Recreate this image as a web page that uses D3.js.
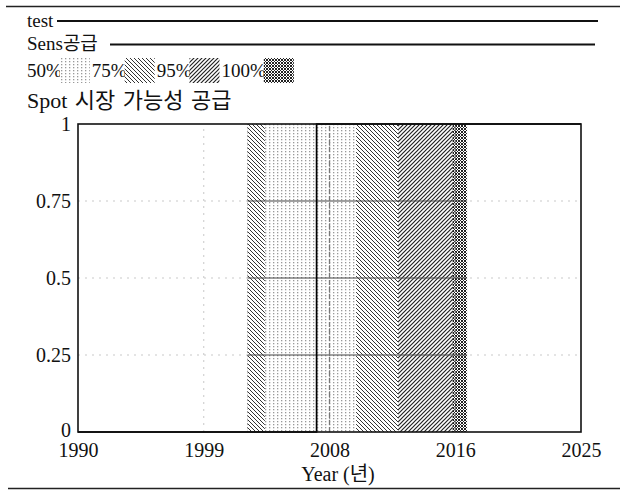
<!DOCTYPE html>
<html lang="ko">
<head>
<meta charset="utf-8">
<title>Spot 시장 가능성 공급</title>
<script src="https://cdn.jsdelivr.net/npm/d3@7"></script>
<style>
  body { margin: 0; background: #fff; }
  text { font-family: "Liberation Serif", "Noto Sans CJK KR", serif; fill: #111; }
</style>
</head>
<body>
<script>
/* data */
var xDomain = [1990, 2025];
var xTickValues = [1990, 1998.75, 2007.5, 2016.25, 2025];
var xTickLabels = ["1990", "1999", "2008", "2016", "2025"];
var yTicks = [0, 0.25, 0.5, 0.75, 1];
var yTickLabels = ["0", "0.25", "0.5", "0.75", "1"];
var bandLabels = ["50%", "75%", "95%", "100%"];
/* each band: time span where the runs of that percentile switch from 0 to 1 */
var bandStart = [2003.0, 2001.8, 2001.8, 2001.8];
var bandEnd = [2009.35, 2012.27, 2016.07, 2017.07];
var testStep = 2006.6;
var sensStep = 2006.6;
var seriesNames = ["test", "Sens공급"];

var W = 620, H = 491;
var margin = {top: 124, right: 39, bottom: 59, left: 78};

var svg = d3.select("body").append("svg")
  .attr("width", W)
  .attr("height", H);

var x = d3.scaleLinear().domain(xDomain).range([margin.left, W - margin.right]);
var y = d3.scaleLinear().domain([0, 1]).range([H - margin.bottom, margin.top]);

/* hatch patterns */
var defs = svg.append("defs");
var p50 = defs.append("pattern").attr("id", "p50")
  .attr("patternUnits", "userSpaceOnUse").attr("width", 4).attr("height", 3);
p50.append("rect").attr("width", 4).attr("height", 3).attr("fill", "#fff");
p50.append("rect").attr("x", 1).attr("y", 1).attr("width", 1.3).attr("height", 1.3).attr("fill", "#999");

var p75 = defs.append("pattern").attr("id", "p75")
  .attr("patternUnits", "userSpaceOnUse").attr("width", 4).attr("height", 4);
p75.append("rect").attr("width", 4).attr("height", 4).attr("fill", "#fff");
p75.append("path").attr("d", "M0,0L4,4M-1,3L1,5M3,-1L5,1")
  .attr("stroke", "#333").attr("stroke-width", 1);

var p95 = defs.append("pattern").attr("id", "p95")
  .attr("patternUnits", "userSpaceOnUse").attr("width", 4).attr("height", 4);
p95.append("rect").attr("width", 4).attr("height", 4).attr("fill", "#fff");
p95.append("path").attr("d", "M0,4L4,0M-1,1L1,-1M3,5L5,3")
  .attr("stroke", "#222").attr("stroke-width", 1.2);

var p100 = defs.append("pattern").attr("id", "p100")
  .attr("patternUnits", "userSpaceOnUse").attr("width", 3).attr("height", 3);
p100.append("rect").attr("width", 3).attr("height", 3).attr("fill", "#fff");
p100.append("path").attr("d", "M0,0L3,3M0,3L3,0")
  .attr("stroke", "#222").attr("stroke-width", 1);

var fills = ["url(#p50)", "url(#p75)", "url(#p95)", "url(#p100)"];

/* page rules (top and bottom) */
svg.append("line").attr("x1", 6).attr("x2", 620).attr("y1", 6.5).attr("y2", 6.5)
  .attr("stroke", "#222").attr("stroke-width", 1.3);
svg.append("line").attr("x1", 8).attr("x2", 620).attr("y1", 488.5).attr("y2", 488.5)
  .attr("stroke", "#222").attr("stroke-width", 1.3);

/* legend */
svg.append("text").attr("x", 27).attr("y", 27).style("font-size", "19px").text(seriesNames[0]);
svg.append("line").attr("x1", 57).attr("x2", 598).attr("y1", 21).attr("y2", 21)
  .attr("stroke", "#111").attr("stroke-width", 1.8);
svg.append("text").attr("x", 27).attr("y", 50).style("font-size", "19px").text(seriesNames[1]);
svg.append("line").attr("x1", 110).attr("x2", 595).attr("y1", 44.5).attr("y2", 44.5)
  .attr("stroke", "#111").attr("stroke-width", 1.8);

var cursor = 27;
bandLabels.forEach(function(lab, i) {
  var t = svg.append("text").attr("x", cursor).attr("y", 77).style("font-size", "19px").text(lab);
  cursor += t.node().getComputedTextLength() - 2;
  svg.append("rect").attr("x", cursor).attr("y", 58).attr("width", 30).attr("height", 25)
    .attr("fill", fills[i]);
  cursor += 32;
});

svg.append("text").attr("x", 27).attr("y", 108).style("font-size", "22px")
  .style("word-spacing", "2px").text("Spot 시장 가능성 공급");

/* faint grid */
var grid = svg.append("g").attr("stroke", "#bbb").attr("stroke-width", 0.8).attr("stroke-dasharray", "2,5");
grid.selectAll(".gx").data(xTickValues.slice(1, -1)).enter().append("line")
  .attr("x1", function(d) { return x(d); }).attr("x2", function(d) { return x(d); })
  .attr("y1", y(0)).attr("y2", y(1));
grid.selectAll(".gy").data(yTicks.slice(1, -1)).enter().append("line")
  .attr("x1", x(xDomain[0])).attr("x2", x(xDomain[1]))
  .attr("y1", function(d) { return y(d); }).attr("y2", function(d) { return y(d); });

/* bands, outermost first */
var order = [3, 2, 1, 0];
svg.append("g").selectAll("rect").data(order).enter().append("rect")
  .attr("x", function(i) { return x(bandStart[i]); })
  .attr("width", function(i) { return x(bandEnd[i]) - x(bandStart[i]); })
  .attr("y", y(1))
  .attr("height", y(0) - y(1))
  .attr("fill", function(i) { return fills[i]; });

/* grid shows darker where it crosses the bands */
defs.append("clipPath").attr("id", "bandClip").append("rect")
  .attr("x", x(d3.min(bandStart))).attr("width", x(d3.max(bandEnd)) - x(d3.min(bandStart)))
  .attr("y", y(1)).attr("height", y(0) - y(1));
var dgrid = svg.append("g").attr("clip-path", "url(#bandClip)");
dgrid.selectAll(".dy").data(yTicks.slice(1, -1)).enter().append("line")
  .attr("x1", x(xDomain[0])).attr("x2", x(xDomain[1]))
  .attr("y1", function(d) { return y(d); }).attr("y2", function(d) { return y(d); })
  .attr("stroke", "#444").attr("stroke-width", 1.2);
dgrid.selectAll(".dx").data(xTickValues.slice(1, -1)).enter().append("line")
  .attr("x1", function(d) { return x(d); }).attr("x2", function(d) { return x(d); })
  .attr("y1", y(0)).attr("y2", y(1))
  .attr("stroke", "#777").attr("stroke-width", 1.3).attr("stroke-dasharray", "5,2");

/* step lines */
function stepPath(t) {
  return d3.line()([[x(xDomain[0]), y(0)], [x(t), y(0)], [x(t), y(1)], [x(xDomain[1]), y(1)]]);
}
svg.append("path").attr("d", stepPath(sensStep)).attr("fill", "none")
  .attr("stroke", "#333").attr("stroke-width", 1.2);
svg.append("path").attr("d", stepPath(testStep)).attr("fill", "none")
  .attr("stroke", "#000").attr("stroke-width", 1.6);

/* frame */
svg.append("rect").attr("x", x(xDomain[0])).attr("y", y(1))
  .attr("width", x(xDomain[1]) - x(xDomain[0])).attr("height", y(0) - y(1))
  .attr("fill", "none").attr("stroke", "#111").attr("stroke-width", 1.6);

/* axes */
var xAxis = d3.axisBottom(x).tickValues(xTickValues)
  .tickFormat(function(d, i) { return xTickLabels[i]; })
  .tickSize(0).tickPadding(11);
var gx = svg.append("g").attr("transform", "translate(0," + y(0) + ")").call(xAxis);
gx.select(".domain").remove();
gx.selectAll("text").style("font-size", "20px").attr("fill", "#111")
  .style("font-family", "'Liberation Serif', serif");

var yAxis = d3.axisLeft(y).tickValues(yTicks)
  .tickFormat(function(d, i) { return yTickLabels[i]; })
  .tickSize(0).tickPadding(7);
var gy = svg.append("g").attr("transform", "translate(" + x(xDomain[0]) + ",0)").call(yAxis);
gy.select(".domain").remove();
gy.selectAll("text").style("font-size", "20px").attr("fill", "#111")
  .style("font-family", "'Liberation Serif', serif");
/* the 0 label sits a little higher so it clears 1990 */
gy.selectAll("text").filter(function(d) { return d === 0; }).attr("dy", "0.2em");

svg.append("text").attr("x", 338).attr("y", 481).attr("text-anchor", "middle")
  .style("font-size", "20px").text("Year (년)");
</script>
</body>
</html>
